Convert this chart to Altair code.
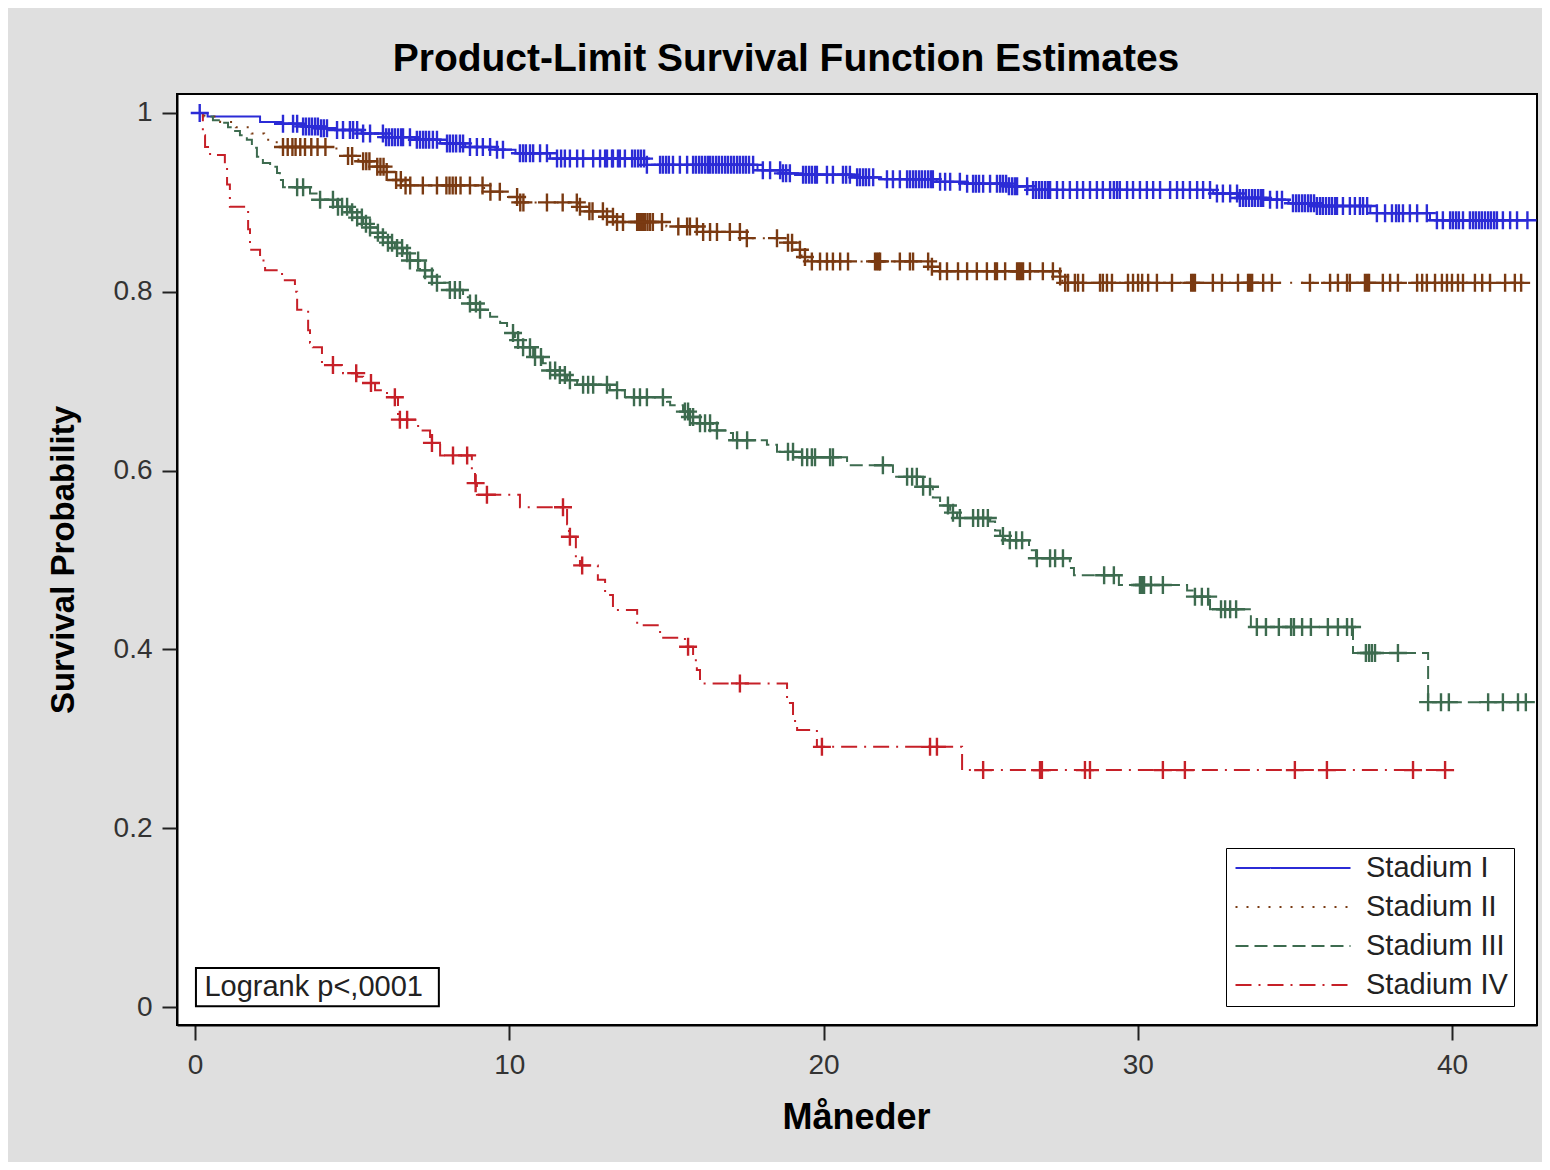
import altair as alt
import pandas as pd
from bisect import bisect_right

groups = ["Stadium I", "Stadium II", "Stadium III", "Stadium IV"]
colors = ["#2B2BD6", "#7A3A12", "#3D6B4F", "#C62028"]
dashes = [[1, 0], [2, 9], [13, 6], [16, 7, 2, 7]]

x_ticks = [0, 10, 20, 30, 40]
y_ticks = [0, 0.2, 0.4, 0.6, 0.8, 1]
logrank_text = "Logrank p<,0001"

# Stadium I
s1_t = [0, 0.4, 2.07, 2.8, 3.4, 4.0, 4.5, 5.3, 6.0, 7.0, 7.8, 8.6, 9.6, 10.2, 11.3, 14.3, 17.9, 18.7,
        19.3, 20.9, 21.8, 23.6, 24.5, 25.9, 26.5, 32.4, 33.2, 34.1, 34.8, 35.7, 37.4, 39.3, 42.4]
s1_s = [1.0, 0.996, 0.990, 0.988, 0.985, 0.983, 0.981, 0.977, 0.973, 0.970, 0.966, 0.962, 0.959, 0.955,
        0.949, 0.942, 0.936, 0.9325, 0.931, 0.928, 0.926, 0.923, 0.921, 0.918, 0.914, 0.910, 0.905, 0.903,
        0.899, 0.896, 0.888, 0.880, 0.880]
c1 = [0.15, 2.80, 3.12, 3.25, 3.44, 3.53, 3.63, 3.72, 3.82, 3.91, 4.01, 4.10, 4.20, 4.52, 4.71, 4.93, 5.03,
      5.16, 5.35, 5.57, 5.98, 6.08, 6.17, 6.27, 6.36, 6.46, 6.56, 6.62, 6.84, 7.06, 7.16, 7.26, 7.35, 7.45,
      7.57, 7.70, 8.02, 8.11, 8.21, 8.31, 8.43, 8.53, 8.75, 8.97, 9.16, 9.39, 9.61, 9.80, 10.34, 10.44,
      10.53, 10.66, 10.76, 10.98, 11.20, 11.52, 11.65, 11.77, 11.93, 12.16, 12.35, 12.67, 12.89, 13.05,
      13.11, 13.27, 13.30, 13.46, 13.52, 13.68, 13.91, 14.0, 14.10, 14.19, 14.29, 14.38, 14.80, 14.89,
      14.99, 15.08, 15.21, 15.43, 15.66, 15.85, 15.94, 16.04, 16.13, 16.23, 16.32, 16.39, 16.48, 16.58,
      16.67, 16.77, 16.87, 16.96, 17.06, 17.15, 17.25, 17.34, 17.44, 17.53, 17.63, 17.76, 18.07, 18.30,
      18.62, 18.71, 18.81, 18.93, 19.35, 19.44, 19.54, 19.63, 19.73, 19.79, 20.11, 20.30, 20.62, 20.72,
      20.84, 21.07, 21.16, 21.26, 21.35, 21.45, 21.58, 22.02, 22.21, 22.43, 22.66, 22.75, 22.85, 22.94,
      23.04, 23.13, 23.23, 23.33, 23.42, 23.48, 23.71, 23.87, 24.03, 24.34, 24.57, 24.76, 24.85, 24.95,
      25.08, 25.30, 25.52, 25.62, 25.71, 25.81, 25.90, 26.0, 26.09, 26.16, 26.48, 26.67, 26.76, 26.86,
      26.95, 27.05, 27.14, 27.21, 27.43, 27.62, 27.84, 28.07, 28.26, 28.48, 28.70, 28.89, 29.12, 29.24,
      29.34, 29.43, 29.66, 29.85, 30.07, 30.29, 30.49, 30.71, 31.03, 31.25, 31.44, 31.66, 31.89, 32.08,
      32.30, 32.52, 32.71, 32.94, 33.16, 33.25, 33.35, 33.44, 33.54, 33.64, 33.73, 33.83, 33.92, 33.99,
      34.21, 34.43, 34.59, 34.94, 35.04, 35.13, 35.23, 35.32, 35.42, 35.51, 35.61, 35.70, 35.80, 35.89,
      35.99, 36.09, 36.18, 36.28, 36.34, 36.53, 36.75, 36.91, 37.07, 37.17, 37.30, 37.61, 37.87, 38.09,
      38.22, 38.31, 38.44, 38.66, 38.89, 39.20, 39.52, 39.71, 39.94, 40.03, 40.13, 40.22, 40.35, 40.57,
      40.67, 40.76, 40.86, 40.95, 41.05, 41.15, 41.24, 41.34, 41.43, 41.62, 41.85, 42.07, 42.4]

# Stadium II
s2_t = [0, 0.3, 0.8, 1.3, 1.8, 2.2, 2.6, 4.5, 5.2, 5.8, 6.1, 6.3, 6.6, 9.2, 9.9, 10.3, 12.2, 12.5, 13.1,
        13.4, 15.0, 16.0, 17.4, 18.8, 19.1, 19.3, 19.5, 23.45, 23.7, 27.5, 27.6, 42.2]
s2_s = [1.0, 0.996, 0.99, 0.984, 0.977, 0.97, 0.962, 0.952, 0.946, 0.940, 0.934, 0.925, 0.919, 0.912,
        0.906, 0.900, 0.895, 0.890, 0.884, 0.878, 0.873, 0.867, 0.860, 0.855, 0.847, 0.839, 0.834, 0.828,
        0.823, 0.817, 0.810, 0.810]
c2 = [2.8, 2.95, 3.1, 3.2, 3.35, 3.5, 3.7, 3.9, 4.15, 4.87, 5.0, 5.35, 5.45, 5.55, 5.8, 5.9, 6.0, 6.1,
      6.4, 6.55, 6.7, 6.85, 7.25, 7.7, 8.0, 8.1, 8.2, 8.3, 8.45, 8.75, 9.15, 9.4, 9.7, 10.25, 10.35, 10.45,
      11.2, 11.7, 12.15, 12.25, 12.55, 12.65, 12.98, 13.11, 13.3, 13.43, 13.62, 14.07, 14.13, 14.19, 14.26,
      14.32, 14.4, 14.48, 14.57, 14.86, 15.38, 15.66, 15.75, 15.97, 16.17, 16.39, 16.61, 17.02, 17.34,
      17.56, 18.52, 18.87, 19.0, 19.25, 19.41, 19.63, 19.89, 20.11, 20.3, 20.53, 20.78, 21.64, 21.7, 21.76,
      21.8, 22.43, 22.75, 22.85, 23.33, 23.45, 23.71, 23.93, 24.28, 24.57, 24.88, 25.2, 25.46, 25.52,
      25.78, 26.16, 26.22, 26.28, 26.35, 26.57, 26.98, 27.3, 27.53, 27.69, 27.78, 28.0, 28.1, 28.26, 28.8,
      28.89, 29.02, 29.18, 29.69, 29.85, 30.01, 30.14, 30.33, 30.61, 31.09, 31.7, 31.76, 31.82, 32.39,
      32.68, 33.19, 33.51, 33.57, 33.64, 33.99, 34.27, 35.48, 36.12, 36.37, 36.66, 36.75, 37.23, 37.3,
      37.36, 37.8, 38.03, 38.28, 38.89, 39.05, 39.2, 39.46, 39.68, 39.84, 40.0, 40.19, 40.35, 40.73, 40.96,
      41.21, 41.69, 42.0, 42.2]

# Stadium III
s3_t = [0, 0.25, 0.57, 0.8, 1.05, 1.2, 1.43, 1.65, 1.81, 1.97, 2.16, 2.39, 2.61, 2.7, 2.8, 3.66, 3.98,
        4.52, 4.93, 5.16, 5.35, 5.57, 5.79, 5.98, 6.14, 6.36, 6.62, 6.84, 7.16, 7.48, 7.7, 8.11, 8.53, 8.75,
        9.07, 9.39, 9.71, 9.93, 10.18, 10.44, 10.76, 11.07, 11.3, 11.6, 11.84, 12.16, 13.2, 13.68, 15.02,
        15.12, 15.53, 15.75, 16.07, 16.48, 17.02, 17.12, 18.2, 18.52, 19.25, 20.75, 22.21, 23.17, 23.48,
        23.71, 24.03, 24.25, 25.3, 25.46, 25.62, 25.78, 26.54, 26.76, 27.84, 27.97, 29.4, 31.57, 31.82,
        32.3, 33.6, 36.85, 39.24, 42.35]
s3_s = [1.0, 0.996, 0.992, 0.989, 0.984, 0.980, 0.975, 0.970, 0.961, 0.951, 0.944, 0.940, 0.933, 0.925,
        0.917, 0.910, 0.903, 0.895, 0.889, 0.883, 0.876, 0.872, 0.866, 0.861, 0.855, 0.849, 0.843, 0.835,
        0.824, 0.817, 0.810, 0.802, 0.794, 0.787, 0.780, 0.772, 0.765, 0.754, 0.746, 0.738, 0.727, 0.720,
        0.712, 0.707, 0.701, 0.696, 0.690, 0.682, 0.677, 0.673, 0.666, 0.660, 0.653, 0.645, 0.642, 0.634,
        0.629, 0.621, 0.615, 0.606, 0.593, 0.582, 0.570, 0.561, 0.553, 0.547, 0.543, 0.533, 0.527, 0.522,
        0.511, 0.502, 0.491, 0.483, 0.472, 0.466, 0.459, 0.445, 0.425, 0.396, 0.341, 0.341]
c3 = [3.25, 3.44, 3.98, 4.39, 4.55, 4.68, 4.84, 5.0, 5.16, 5.31, 5.44, 5.57, 5.82, 5.98, 6.14, 6.27, 6.43,
      6.59, 6.75, 6.84, 7.1, 7.32, 7.54, 7.7, 8.11, 8.27, 8.43, 8.75, 8.94, 9.07, 10.12, 10.28, 10.44,
      10.66, 10.82, 11.01, 11.3, 11.46, 11.61, 11.77, 11.93, 12.35, 12.51, 12.67, 13.11, 13.43, 13.97,
      14.16, 14.38, 14.89, 15.59, 15.69, 15.75, 15.85, 16.07, 16.23, 16.39, 16.61, 17.25, 17.57, 18.87,
      19.03, 19.32, 19.48, 19.63, 19.73, 20.21, 20.3, 21.89, 22.66, 22.82, 22.97, 23.17, 23.39, 23.96,
      24.12, 24.34, 24.76, 24.92, 25.08, 25.23, 25.71, 25.93, 26.13, 26.32, 26.79, 27.21, 27.37, 27.62,
      28.93, 29.24, 30.07, 30.13, 30.2, 30.42, 30.8, 31.82, 32.04, 32.24, 32.65, 32.78, 32.94, 33.13,
      33.79, 34.08, 34.49, 34.88, 34.97, 35.23, 35.51, 36.05, 36.37, 36.66, 36.82, 37.26, 37.36, 37.45,
      37.55, 38.28, 39.24, 39.65, 39.9, 41.15, 41.62, 42.1, 42.35]

# Stadium IV
s4_t = [0, 0.25, 0.32, 0.48, 0.95, 1.02, 1.11, 1.69, 1.75, 2.07, 2.23, 2.77, 3.18, 3.25, 3.6, 3.66, 3.75,
        4.04, 4.71, 5.16, 5.35, 5.73, 6.11, 6.46, 7.1, 7.48, 7.8, 8.81, 8.91, 8.97, 10.34, 11.84, 11.9,
        12.12, 12.25, 12.82, 13.05, 13.3, 14.07, 14.8, 15.59, 15.85, 15.97, 16.07, 18.84, 19.03, 19.16,
        19.79, 24.41, 40.0]
s4_s = [1.0, 0.975, 0.962, 0.953, 0.94, 0.92, 0.895, 0.87, 0.847, 0.835, 0.824, 0.813, 0.80, 0.78, 0.757,
        0.743, 0.738, 0.718, 0.709, 0.705, 0.698, 0.690, 0.682, 0.657, 0.645, 0.631, 0.617, 0.60, 0.586,
        0.573, 0.559, 0.54, 0.526, 0.50, 0.494, 0.478, 0.461, 0.444, 0.427, 0.413, 0.403, 0.388, 0.377,
        0.362, 0.34, 0.32, 0.31, 0.291, 0.265, 0.265]
c4 = [4.39, 5.13, 5.6, 6.36, 6.52, 6.75, 7.54, 8.21, 8.66, 8.93, 9.29, 11.71, 11.93, 12.32, 15.69, 17.34,
      19.95, 23.39, 23.61, 25.08, 26.89, 26.95, 28.32, 28.48, 30.8, 31.5, 35.0, 36.02, 38.76, 39.78]

steps = [(s1_t, s1_s, c1), (s2_t, s2_s, c2), (s3_t, s3_s, c3), (s4_t, s4_s, c4)]

line_rows, cens_rows = [], []
for g, (ts, ss, cs) in zip(groups, steps):
    assert len(ts) == len(ss), g
    for t, s in zip(ts, ss):
        line_rows.append({"group": g, "t": t, "s": s})
    for c in cs:
        i = max(bisect_right(ts, c) - 1, 0)
        cens_rows.append({"group": g, "t": c, "s": ss[i]})

line_df = pd.DataFrame(line_rows)
cens_df = pd.DataFrame(cens_rows)

FONT = "Liberation Sans"
x_scale = alt.Scale(domain=[-0.573, 42.705], nice=False, zero=False)
y_scale = alt.Scale(domain=[-0.0201, 1.02125], nice=False, zero=False)

legend = alt.Legend(
    title=None, orient="none", legendX=1049, legendY=754,
    symbolType="M-0.875,0H8.71", symbolSize=576, symbolStrokeWidth=2,
    labelOffset=105.5, labelFontSize=29, labelFont=FONT, labelColor="#222",
    padding=5.5, rowPadding=9, strokeColor="black", fillColor="white",
)

lines = alt.Chart(line_df).mark_line(interpolate="step-after", strokeWidth=2).encode(
    x=alt.X("t:Q", scale=x_scale, axis=alt.Axis(
        values=x_ticks, title="Måneder", titleX=679, titleY=103, titleBaseline="alphabetic",
        titleFontSize=36, labelPadding=11)),
    y=alt.Y("s:Q", scale=y_scale, axis=alt.Axis(
        values=y_ticks, format="~g", title="Survival Probability", titleX=-104, titleY=465.5,
        titleAngle=270, titleBaseline="alphabetic", titleAlign="center", titleFontSize=33,
        labelPadding=10)),
    color=alt.Color("group:N", scale=alt.Scale(domain=groups, range=colors), legend=legend),
    strokeDash=alt.StrokeDash("group:N", scale=alt.Scale(domain=groups, range=dashes), legend=legend),
)

marks = alt.Chart(cens_df).mark_point(
    shape="M-1,0H1M0,-1V1", filled=False, size=324, strokeWidth=2.4, opacity=1
).encode(
    x="t:Q", y="s:Q",
    stroke=alt.Stroke("group:N", scale=alt.Scale(domain=groups, range=colors), legend=None),
)

lab_df = pd.DataFrame({"label": [logrank_text]})
box = alt.Chart(lab_df).mark_rect(fill="white", stroke="black", strokeWidth=2).encode(
    x=alt.datum(0.03), x2=alt.datum(7.76), y=alt.datum(0.0436), y2=alt.datum(0.001)
)
txt = alt.Chart(lab_df).mark_text(
    align="left", baseline="middle", fontSize=29, font=FONT, color="#222"
).encode(x=alt.datum(0.3), y=alt.datum(0.0224), text="label:N")

chart = alt.layer(lines, marks, box, txt).properties(
    width=1360, height=931,
    background="#DFDFDF",
    autosize=alt.AutoSizeParams(type="none"),
    padding={"left": 169, "top": 86, "right": 5, "bottom": 137},
    title=alt.TitleParams(
        text="Product-Limit Survival Function Estimates", font=FONT, fontSize=39,
        fontWeight="bold", color="black", anchor="middle", frame="group",
        offset=24, dx=-71, dy=40, baseline="alphabetic",
    ),
).configure_view(
    fill="white", stroke="black", strokeWidth=2
).configure_axis(
    grid=False, domainColor="black", domainWidth=2, tickColor="#222", tickWidth=2, tickSize=15,
    labelFont=FONT, labelFontSize=28, labelColor="#333",
    titleFont=FONT, titleFontWeight="bold", titleColor="black",
)

chart.save("out.html", embed_options={"renderer": "svg", "actions": False})
